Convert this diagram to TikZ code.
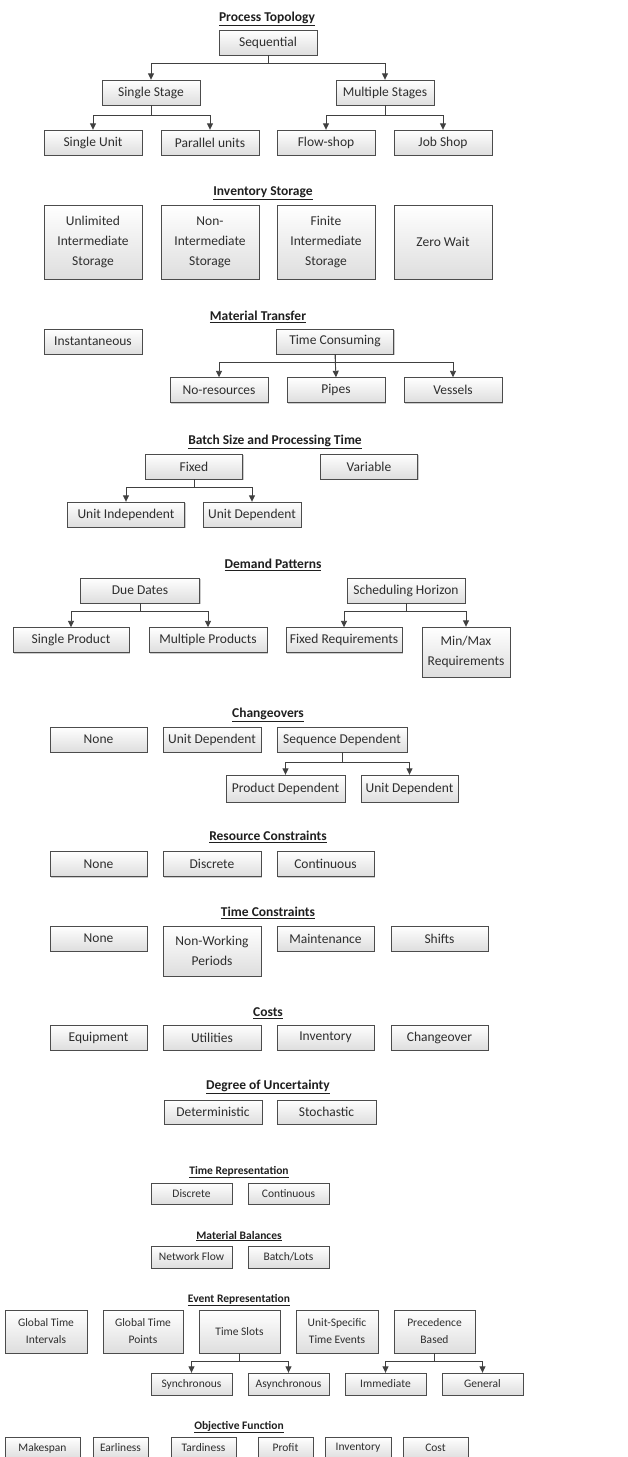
\documentclass[tikz,border=0pt]{standalone}
\usepackage{fontspec}
\setmainfont{Carlito}
\usepackage{tikz}
\usetikzlibrary{
	arrows.meta,
	shadows,
	positioning
}

\tikzset{
	box/.style={draw=black!70, top color=white, bottom color=black!13,
		drop shadow={opacity=0.4, shadow xshift=1.3pt, shadow yshift=-1.3pt},
		minimum width=98pt, minimum height=25pt, inner sep=1pt, align=center,
		text=black!82, font=\fontsize{13.5}{20}\selectfont},
	sbox/.style={box, minimum width=81pt, minimum height=22pt,
		font=\fontsize{11.5}{17}\selectfont},
	head/.style={text=black!88, font=\bfseries\fontsize{13.5}{16}\selectfont},
	shead/.style={text=black!88, font=\bfseries\fontsize{11.5}{14}\selectfont},
	link/.style={draw=black!75, line width=0.9pt, -{Triangle[width=6pt,length=6.5pt]}}
}

\begin{document}
\begin{tikzpicture}[x=1pt, y=-1pt]
	\useasboundingbox (0,0) rectangle (627,1457);

	% process topology
	\node[head] (tTopo) at (267,19) {\underline{Process Topology}};
	\node[box] (seq)    at (268,42.5)  {Sequential};
	\node[box] (sstage) at (151,92.5)  {Single Stage};
	\node[box] (mstage) at (385,92.5)  {Multiple Stages};
	\node[box] (sunit)  at (93,142.5)  {Single Unit};
	\node[box] (punits) at (210,142.5) {Parallel units};
	\node[box] (flow)   at (326,142.5) {Flow-shop};
	\node[box] (job)    at (443,142.5) {Job Shop};
	\draw[link] (seq.south) -- ++(0,8) -| (sstage.north);
	\draw[link] (seq.south) -- ++(0,8) -| (mstage.north);
	\draw[link] (sstage.south) -- ++(0,10) -| (sunit.north);
	\draw[link] (sstage.south) -- ++(0,10) -| (punits.north);
	\draw[link] (mstage.south) -- ++(0,10) -| (flow.north);
	\draw[link] (mstage.south) -- ++(0,10) -| (job.north);

	% inventory storage
	\node[head] (tInv) at (263,193) {\underline{Inventory Storage}};
	\node[box, minimum height=74pt] (uis) at (93,242)  {Unlimited\\Intermediate\\Storage};
	\node[box, minimum height=74pt] (nis) at (210,242) {Non-\\Intermediate\\Storage};
	\node[box, minimum height=74pt] (fis) at (326,242) {Finite\\Intermediate\\Storage};
	\node[box, minimum height=74pt] (zw)  at (443,242) {Zero Wait};

	% material transfer
	\node[head] (tMat) at (258,317) {\underline{Material Transfer}};
	\node[box] (inst)  at (93,341.5) {Instantaneous};
	\node[box, minimum width=117pt] (tcons) at (335,341.5) {Time Consuming};
	\node[box] (nores)   at (219,390) {No-resources};
	\node[box] (pipes)   at (336,390) {Pipes};
	\node[box] (vessels) at (453,390) {Vessels};
	\draw[link] (tcons.south) -- ++(0,8) -| (nores.north);
	\draw[link] (tcons.south) -- (pipes.north);
	\draw[link] (tcons.south) -- ++(0,8) -| (vessels.north);

	% batch size
	\node[head] (tBatch) at (275,442) {\underline{Batch Size and Processing Time}};
	\node[box, minimum width=97pt] (fixed)    at (194,466.5) {Fixed};
	\node[box, minimum width=97pt] (variable) at (369,466.5) {Variable};
	\node[box, minimum width=117pt] (uind) at (126,514.5) {Unit Independent};
	\node[box] (udep) at (252,514.5) {Unit Dependent};
	\draw[link] (fixed.south) -- ++(0,8) -| (uind.north);
	\draw[link] (fixed.south) -- ++(0,8) -| (udep.north);

	% demand patterns
	\node[head] (tDem) at (273,565) {\underline{Demand Patterns}};
	\node[box, minimum width=119pt] (due)   at (140,590.5) {Due Dates};
	\node[box, minimum width=118pt] (sched) at (406,590.5) {Scheduling Horizon};
	\node[box, minimum width=116pt] (sprod) at (71,640)  {Single Product};
	\node[box, minimum width=118pt] (mprod) at (208,640) {Multiple Products};
	\node[box, minimum width=116pt] (freq)  at (344,640) {Fixed Requirements};
	\node[box, minimum width=88pt, minimum height=50pt] (mmreq) at (466,652) {Min/Max\\Requirements};
	\draw[link] (due.south) -- ++(0,8) -| (sprod.north);
	\draw[link] (due.south) -- ++(0,8) -| (mprod.north);
	\draw[link] (sched.south) -- ++(0,8) -| (freq.north);
	\draw[link] (sched.south) -- ++(0,8) -| (mmreq.north);

	% changeovers
	\node[head] (tChg) at (268,715) {\underline{Changeovers}};
	\node[box, minimum width=97pt]  (none1)  at (98.5,739.5) {None};
	\node[box]                      (udep1)  at (212,739.5)  {Unit Dependent};
	\node[box, minimum width=130pt] (seqdep) at (342,739.5)  {Sequence Dependent};
	\node[box, minimum width=119pt, minimum height=27pt] (pdep)  at (285.5,788.5) {Product Dependent};
	\node[box, minimum width=97pt,  minimum height=27pt] (udep2) at (409.5,788.5) {Unit Dependent};
	\draw[link] (seqdep.south) -- ++(0,10) -| (pdep.north);
	\draw[link] (seqdep.south) -- ++(0,10) -| (udep2.north);

	% resource constraints
	\node[head] (tRes) at (268,837) {\underline{Resource Constraints}};
	\node[box, minimum width=97pt] (none2) at (98.5,864)  {None};
	\node[box]                     (disc)  at (212,864)   {Discrete};
	\node[box, minimum width=97pt] (cont)  at (325.5,864) {Continuous};

	% time constraints
	\node[head] (tTime) at (268,913) {\underline{Time Constraints}};
	\node[box, minimum width=97pt] (none3)  at (98.5,938.5)  {None};
	\node[box, minimum height=50pt] (nwp)   at (212,951)     {Non-Working\\Periods};
	\node[box, minimum width=97pt] (maint)  at (325.5,938.5) {Maintenance};
	\node[box, minimum width=97pt] (shifts) at (439.5,938.5) {Shifts};

	% costs
	\node[head] (tCost) at (268,1013) {\underline{Costs}};
	\node[box, minimum width=97pt] (equip) at (98.5,1037.5)  {Equipment};
	\node[box]                     (util)  at (212,1037.5)   {Utilities};
	\node[box, minimum width=97pt] (inv)   at (325.5,1037.5) {Inventory};
	\node[box, minimum width=97pt] (chg)   at (439.5,1037.5) {Changeover};

	% uncertainty
	\node[head] (tUnc) at (268,1087) {\underline{Degree of Uncertainty}};
	\node[box, minimum height=24pt] (det)   at (213,1112)   {Deterministic};
	\node[box, minimum height=24pt, minimum width=99pt] (stoch) at (326.5,1112) {Stochastic};

	% time representation
	\node[shead] (tTrep) at (239,1172) {\underline{Time Representation}};
	\node[sbox, minimum height=21pt] (disc2) at (191.5,1193.5) {Discrete};
	\node[sbox, minimum height=21pt] (cont2) at (288.5,1193.5) {Continuous};

	% material balances
	\node[shead] (tBal) at (239,1236) {\underline{Material Balances}};
	\node[sbox] (netflow) at (191.5,1257) {Network Flow};
	\node[sbox] (lots)    at (288.5,1257) {Batch/Lots};

	% event representation
	\node[shead] (tEvt) at (239,1300) {\underline{Event Representation}};
	\node[sbox, minimum width=82pt, minimum height=43pt] (gti)    at (46,1331.5)    {Global Time\\Intervals};
	\node[sbox, minimum width=80pt, minimum height=43pt] (gtp)    at (143,1331.5)   {Global Time\\Points};
	\node[sbox, minimum height=43pt]                     (tslots) at (239.5,1331.5) {Time Slots};
	\node[sbox, minimum width=82pt, minimum height=43pt] (uste)   at (337,1331.5)   {Unit-Specific\\Time Events};
	\node[sbox, minimum height=43pt]                     (prec)   at (434.5,1331.5) {Precedence\\Based};
	\node[sbox] (sync)    at (191.5,1384) {Synchronous};
	\node[sbox] (async)   at (288.5,1384) {Asynchronous};
	\node[sbox] (immed)   at (385.5,1384) {Immediate};
	\node[sbox] (general) at (482.5,1384) {General};
	\draw[link] (tslots.south) -- ++(0,8) -| (sync.north);
	\draw[link] (tslots.south) -- ++(0,8) -| (async.north);
	\draw[link] (prec.south) -- ++(0,8) -| (immed.north);
	\draw[link] (prec.south) -- ++(0,8) -| (general.north);

	% objective function
	\node[shead] (tObj) at (239,1427) {\underline{Objective Function}};
	\node[sbox, minimum width=75pt] (mksp)   at (42.5,1448)  {Makespan};
	\node[sbox, minimum width=55pt] (earl)   at (120.5,1448) {Earliness};
	\node[sbox, minimum width=65pt] (tard)   at (203.5,1448) {Tardiness};
	\node[sbox, minimum width=55pt] (profit) at (285.5,1448) {Profit};
	\node[sbox, minimum width=66pt] (inv2)   at (358,1448)   {Inventory};
	\node[sbox, minimum width=65pt] (cost)   at (435.5,1448) {Cost};
\end{tikzpicture}
\end{document}
